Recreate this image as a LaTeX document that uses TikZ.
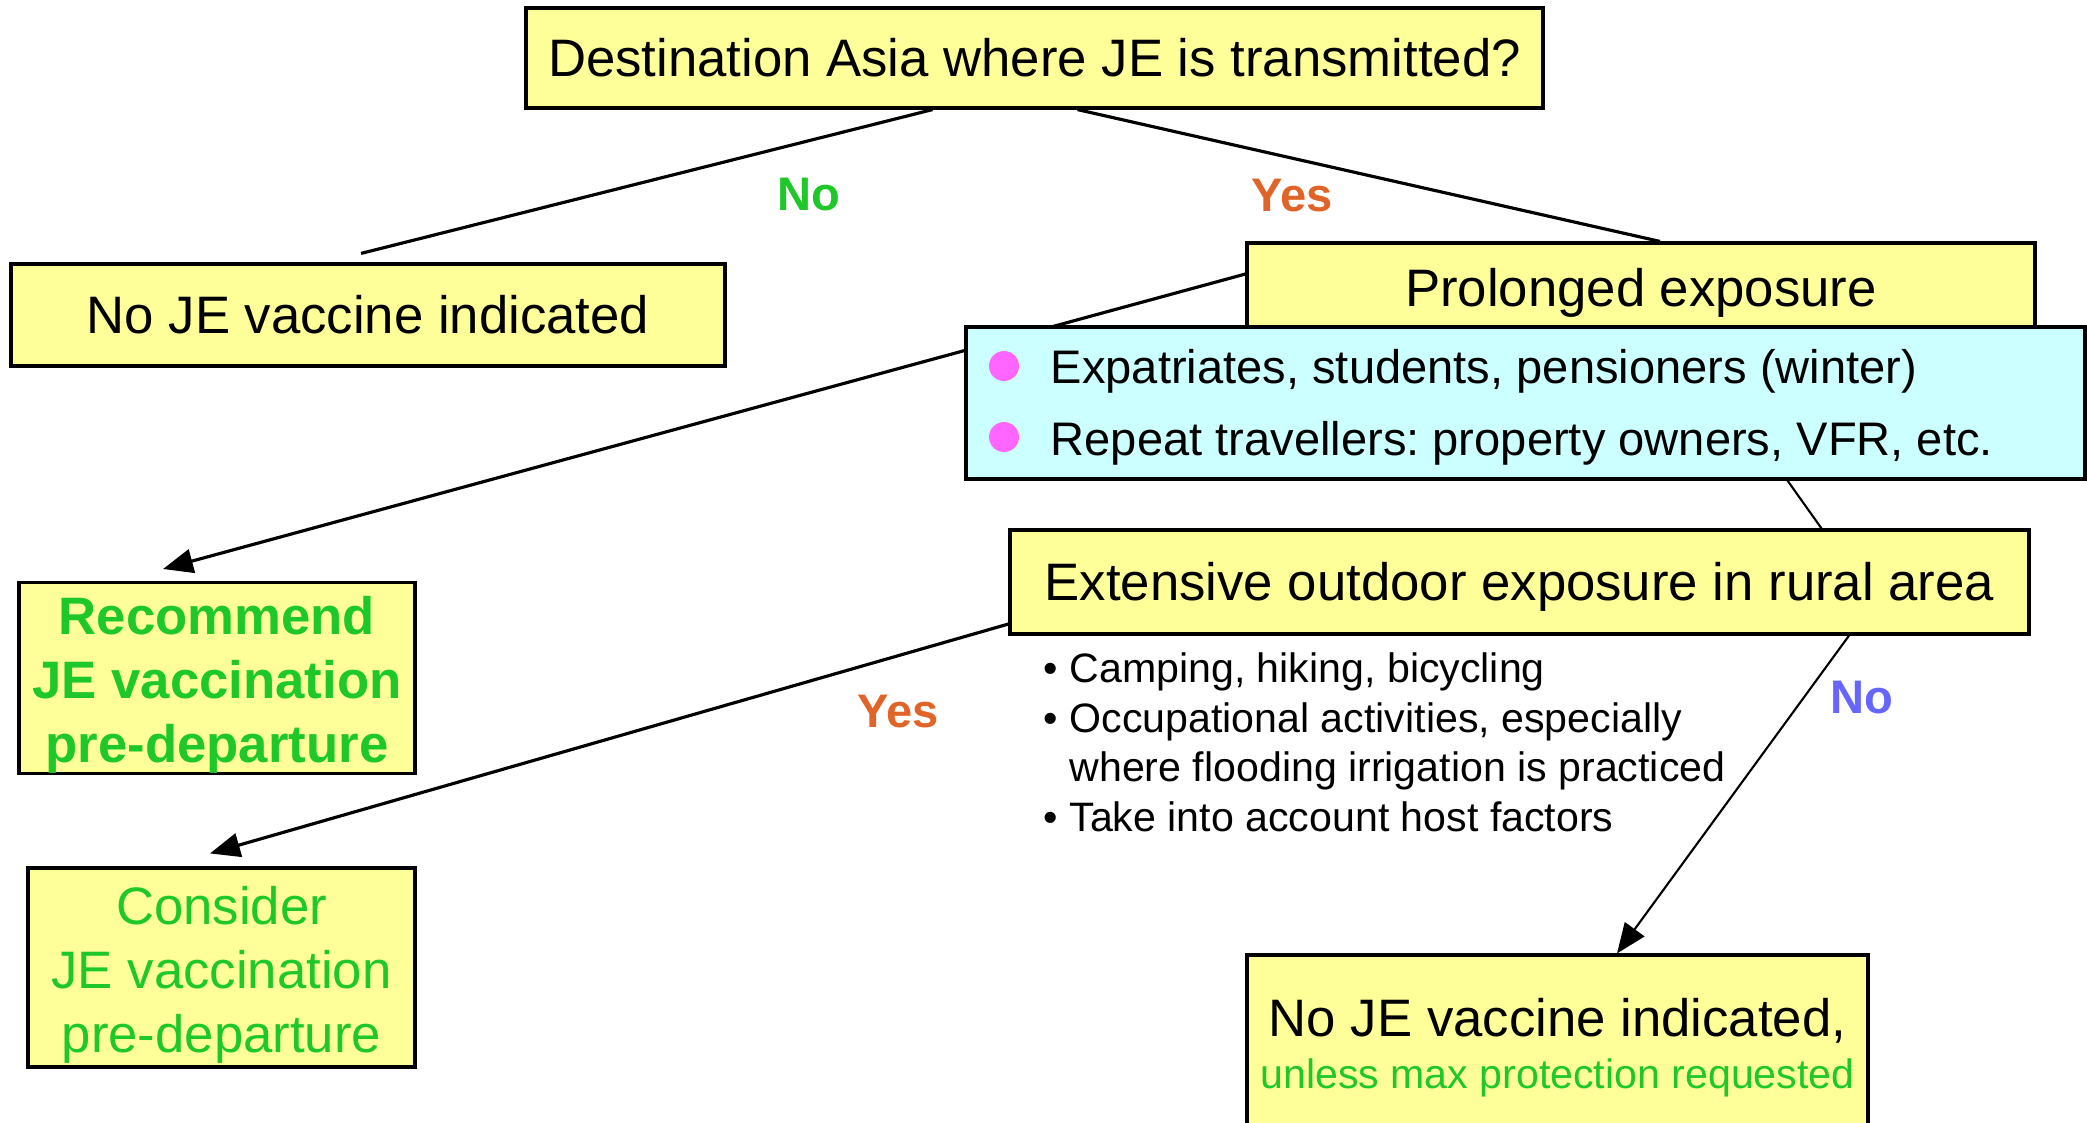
\documentclass[tikz,border=0pt]{standalone}
\usepackage{fontspec}
\setmainfont{Liberation Sans}
\usetikzlibrary{arrows.meta, positioning, calc}
\definecolor{boxyellow}{RGB}{255,255,153}
\definecolor{boxcyan}{RGB}{204,255,255}
\definecolor{jegreen}{RGB}{30,200,40}
\definecolor{yesorange}{RGB}{224,100,40}
\definecolor{noblue}{RGB}{102,102,255}
\definecolor{dotpink}{RGB}{255,102,255}
\newcommand\bigtxt{\fontsize{15}{18.2}\selectfont}
\newcommand\medtxt{\fontsize{13.4}{20.5}\selectfont}
\newcommand\smalltxt{\fontsize{11.7}{14.1}\selectfont}
\newcommand\topstrut{\rule{0pt}{0.52cm}}
\frenchspacing
\tikzset{
    qbox/.style={draw, line width=0.9pt, fill=boxyellow, inner sep=0pt, font=\bigtxt},
    onel/.style={text height=10.8pt, text depth=0pt},
    conn/.style={line width=0.9pt},
    thinconn/.style={line width=0.6pt},
    arr/.style={-{Triangle[length=0.3cm,width=0.24cm]}},
    lbl/.style={font=\fontsize{13.4}{16}\selectfont\bfseries, inner sep=0pt}
}
\begin{document}
\begin{tikzpicture}[x=1cm, y=-1cm]
    \useasboundingbox (0,0) rectangle (20.87,11.22);
    \node[qbox, onel, minimum width=10.17cm, minimum height=1.00cm] (dest) at (10.345,0.58) {Destination Asia where JE is transmitted?};
    \node[qbox, onel, minimum width=7.14cm, minimum height=1.02cm] (leftno) at (3.68,3.15) {No JE vaccine indicated};
    \node[qbox, onel, minimum width=7.88cm, minimum height=0.90cm] (prolonged) at (16.41,2.88) {Prolonged exposure};
    \node[qbox, onel, minimum width=10.19cm, minimum height=1.04cm] (rural) at (15.195,5.82) {Extensive outdoor exposure in rural area};
    \node[qbox, align=center, text=jegreen, font=\bigtxt\bfseries, minimum width=3.96cm, minimum height=1.86cm] (recommend) at (2.17,6.78) {\topstrut Recommend\\JE vaccination\\pre-departure};
    \node[qbox, align=center, text=jegreen, minimum width=3.87cm, minimum height=1.99cm] (consider) at (2.215,9.675) {\topstrut Consider\\JE vaccination\\pre-departure};
    \node[qbox, align=center, font=\fontsize{15}{14.8}\selectfont, minimum width=6.21cm, minimum height=1.85cm] (notunless) at (15.575,10.475) {No JE vaccine indicated,\\\textcolor{jegreen}{\smalltxt unless max protection requested}};
    \node[anchor=north west, inner sep=0pt, align=left, font=\smalltxt] (ruralnotes) at (10.43,6.52) {%
        • Camping, hiking, bicycling\\
        • Occupational activities, especially\\
        \phantom{• }where flooding irrigation is practiced\\
        • Take into account host factors};
    \draw[conn] ([xshift=-1.02cm]dest.south) -- ([xshift=-0.07cm,yshift=0.09cm]leftno.north);
    \draw[conn] ([xshift=0.43cm]dest.south) -- ([xshift=0.19cm]prolonged.north);
    \draw[conn, arr] ([yshift=0.14cm]prolonged.west) -- ([xshift=-0.54cm,yshift=0.12cm]recommend.north);
    \draw[conn, arr] ([yshift=-0.42cm]rural.west) -- ([xshift=-0.115cm,yshift=0.13cm]consider.north);
    \draw[thinconn, arr] ([xshift=3.295cm]rural.south) -- ([xshift=0.595cm]notunless.north);
    \node[draw, line width=0.9pt, fill=boxcyan, minimum width=11.19cm, minimum height=1.52cm] (expo) at (15.255,4.03) {};
    \fill[dotpink] (10.04,3.66) circle[radius=0.15cm];
    \fill[dotpink] (10.04,4.37) circle[radius=0.15cm];
    \node[anchor=north west, inner sep=0pt, align=left, font=\medtxt] (expolist) at (10.50,3.49) {Expatriates, students, pensioners (winter)\\Repeat travellers: property owners, VFR, etc.};
    \draw[thinconn] ([xshift=2.62cm]expo.south) -- ([xshift=3.02cm]rural.north);
    \node[lbl, text=jegreen] (dno) at (8.09,1.95) {No};
    \node[lbl, text=yesorange] (dyes) at (12.92,1.96) {Yes};
    \node[lbl, text=yesorange] (ryes) at (8.98,7.12) {Yes};
    \node[lbl, text=noblue] (rno) at (18.62,6.98) {No};
\end{tikzpicture}
\end{document}
